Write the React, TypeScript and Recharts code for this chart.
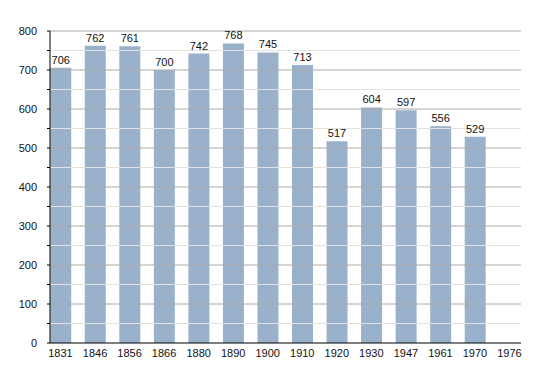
import { Bar, BarChart, LabelList, ReferenceLine, XAxis, YAxis } from 'recharts'

const years = ['1831', '1846', '1856', '1866', '1880', '1890', '1900', '1910', '1920', '1930', '1947', '1961', '1970', '1976']
const population: (number | null)[] = [706, 762, 761, 700, 742, 768, 745, 713, 517, 604, 597, 556, 529, null]
const majorTicks = [100, 200, 300, 400, 500, 600, 700, 800]
const minorTicks = [50, 150, 250, 350, 450, 550, 650, 750]
const yTicks = [0, 50, 100, 150, 200, 250, 300, 350, 400, 450, 500, 550, 600, 650, 700, 750, 800]

const data = years.map((year, i) => ({ idx: i, year, value: population[i] }))

const font = { fill: '#111', fontSize: 11, fontFamily: 'Liberation Sans, Arial, sans-serif' }

export default function App() {
  return (
    <div style={{ position: 'absolute', left: 0, top: 0, background: '#fff' }}>
      <BarChart width={550} height={373} data={data} margin={{ top: 31, right: 29, left: 0, bottom: 0 }}>
        {minorTicks.map((v) => (
          <ReferenceLine key={`mi${v}`} y={v} stroke="#e2e2e2" strokeWidth={1} />
        ))}
        {majorTicks.map((v) => (
          <ReferenceLine key={`ma${v}`} y={v} stroke="#aaaaaa" strokeWidth={1} />
        ))}
        <XAxis
          dataKey="idx"
          type="number"
          domain={[-0.304, 13.333]}
          ticks={years.map((_, i) => i)}
          tickFormatter={(i) => years[i] ?? ''}
          interval={0}
          allowDecimals={false}
          height={30}
          tick={font}
          tickLine={false}
          axisLine={{ stroke: '#000' }}
          tickMargin={0}
        />
        <YAxis
          domain={[0, 800]}
          ticks={yTicks}
          interval={0}
          width={50}
          tick={(props: any) => {
            const { x, y, payload } = props
            if (payload.value % 100 !== 0) return <g />
            return (
              <text x={x - 8} y={y} dy={4} textAnchor="end" {...font}>
                {payload.value}
              </text>
            )
          }}
          tickSize={3}
          tickLine={{ stroke: '#000' }}
          axisLine={{ stroke: '#000' }}
        />
        <Bar dataKey="value" barSize={21} fill="#9ab1cb" isAnimationActive={false}>
          <LabelList dataKey="value" position="top" offset={4} style={font} />
        </Bar>
      </BarChart>
    </div>
  )
}
